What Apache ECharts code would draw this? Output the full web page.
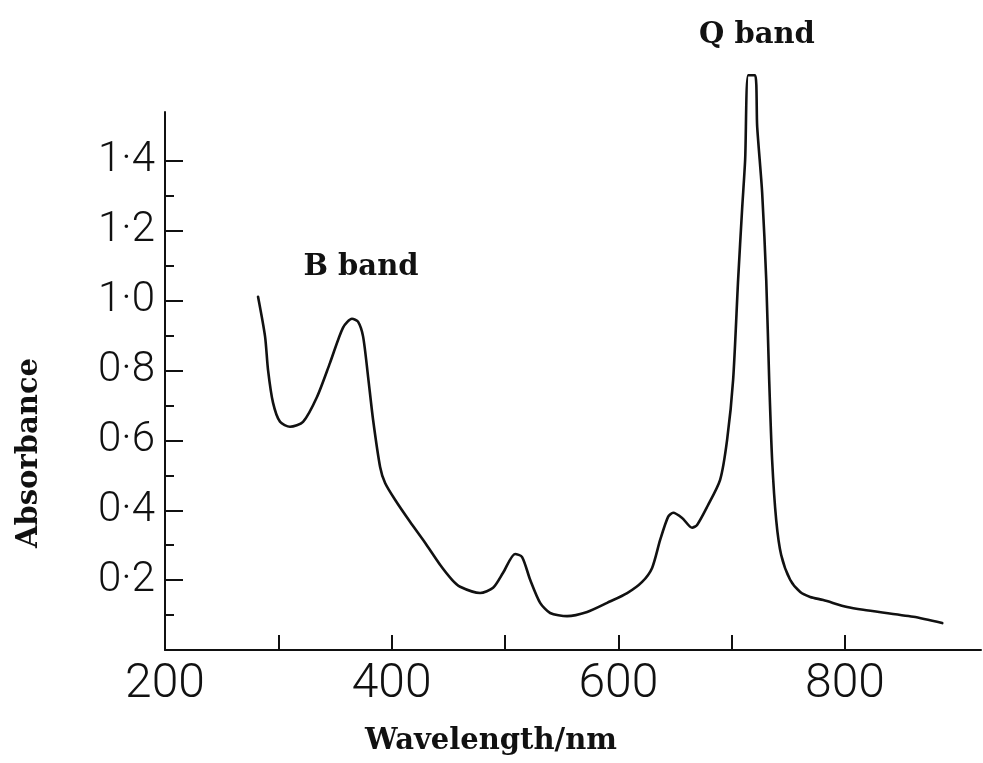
<!DOCTYPE html>
<html>
<head>
<meta charset="utf-8">
<script src="https://cdn.jsdelivr.net/npm/echarts@6/dist/echarts.min.js"></script>
<style>
html,body{margin:0;padding:0;background:#fff;}
#chart{width:983px;height:763px;}
</style>
</head>
<body>
<div id="chart"></div>
<script>
// Wavelength (nm) and absorbance
const wavelength = [282.1, 288.3, 290.9, 295.3, 301.5, 310.3, 321.8, 334.2, 345.6, 357.1, 365.0, 370.3, 374.8, 379.2, 383.6, 389.8, 394.2, 403.0, 416.2, 429.5, 442.7, 453.3, 460.4, 478.0, 489.5, 498.3, 508.9, 515.1, 522.2, 531.0, 539.8, 554.8, 572.5, 590.1, 607.8, 621.0, 629.8, 636.9, 643.9, 648.4, 656.3, 665.1, 669.5, 678.4, 689.8, 696.0, 701.3, 705.7, 709.2, 711.9, 714.6, 720.7, 722.5, 726.9, 730.5, 733.1, 735.7, 739.3, 743.7, 751.6, 760.5, 769.3, 780.8, 801.9, 816.1, 860.2, 885.8];
const absorbance = [1.011, 0.897, 0.802, 0.708, 0.653, 0.639, 0.653, 0.725, 0.822, 0.923, 0.948, 0.940, 0.897, 0.782, 0.659, 0.524, 0.478, 0.430, 0.367, 0.307, 0.244, 0.201, 0.181, 0.163, 0.178, 0.221, 0.275, 0.266, 0.201, 0.135, 0.106, 0.097, 0.109, 0.135, 0.163, 0.195, 0.235, 0.315, 0.381, 0.393, 0.378, 0.350, 0.358, 0.410, 0.487, 0.602, 0.774, 1.060, 1.261, 1.404, 1.645, 1.645, 1.499, 1.309, 1.060, 0.774, 0.544, 0.372, 0.272, 0.201, 0.166, 0.152, 0.143, 0.123, 0.115, 0.095, 0.077];

const xLabelValues = [200, 400, 600, 800];
const xTickValues = [300, 400, 500, 600, 700, 800];
const yLabelValues = [0.2, 0.4, 0.6, 0.8, 1.0, 1.2, 1.4];
const yMinorTickValues = [0.1, 0.3, 0.5, 0.7, 0.9, 1.1, 1.3];
const xTitle = 'Wavelength/nm';
const yTitle = 'Absorbance';
const bandLabels = ['B band', 'Q band'];

const data = wavelength.map((w, i) => [w, absorbance[i]]);
const tickFont = 'Roboto, "Liberation Sans", sans-serif';
const titleFont = '"DejaVu Serif", serif';

const chart = echarts.init(document.getElementById('chart'), null, {renderer: 'canvas'});
chart.setOption({
  backgroundColor: '#ffffff',
  animation: false,
  grid: {left: 165, right: 2, top: 112, bottom: 113, containLabel: false},
  xAxis: {
    type: 'value', min: 200, max: 920,
    axisLine: {show: true, lineStyle: {color: '#111', width: 2}},
    axisTick: {show: true, inside: true, length: 15, customValues: xTickValues, lineStyle: {color: '#111', width: 2}},
    axisLabel: {show: true, customValues: xLabelValues, margin: 11, color: '#111', fontSize: 48, fontWeight: 300, fontFamily: tickFont},
    splitLine: {show: false}
  },
  yAxis: [{
    type: 'value', min: 0, max: 1.54,
    axisLine: {show: true, lineStyle: {color: '#111', width: 2}},
    axisTick: {show: true, inside: true, length: 18, customValues: yLabelValues, lineStyle: {color: '#111', width: 2}},
    axisLabel: {show: true, customValues: yLabelValues, margin: 10, color: '#111', fontSize: 42, fontWeight: 300, fontFamily: tickFont,
      formatter: v => v.toFixed(1).replace('.', '\u00b7')},
    splitLine: {show: false}
  }, {
    type: 'value', min: 0, max: 1.54, position: 'left', offset: 0,
    axisLine: {show: false},
    axisTick: {show: true, inside: true, length: 9, customValues: yMinorTickValues, lineStyle: {color: '#111', width: 2}},
    axisLabel: {show: false},
    splitLine: {show: false}
  }],
  series: [{
    type: 'line', data: data, showSymbol: false, clip: false,
    smooth: 0.25,
    lineStyle: {color: '#111', width: 2.6, join: 'round', cap: 'round'}
  }],
  graphic: [
    {type: 'text', x: 361, y: 267, style: {text: bandLabels[0], font: 'bold 29px ' + titleFont, fill: '#111', textAlign: 'center', textVerticalAlign: 'middle'}},
    {type: 'text', x: 757, y: 35, style: {text: bandLabels[1], font: 'bold 29px ' + titleFont, fill: '#111', textAlign: 'center', textVerticalAlign: 'middle'}},
    {type: 'text', x: 491, y: 741, style: {text: xTitle, font: 'bold 29px ' + titleFont, fill: '#111', textAlign: 'center', textVerticalAlign: 'middle'}},
    {type: 'text', x: 29, y: 453, rotation: Math.PI / 2, style: {text: yTitle, font: 'bold 29px ' + titleFont, fill: '#111', textAlign: 'center', textVerticalAlign: 'middle'}}
  ]
});
</script>
</body>
</html>
